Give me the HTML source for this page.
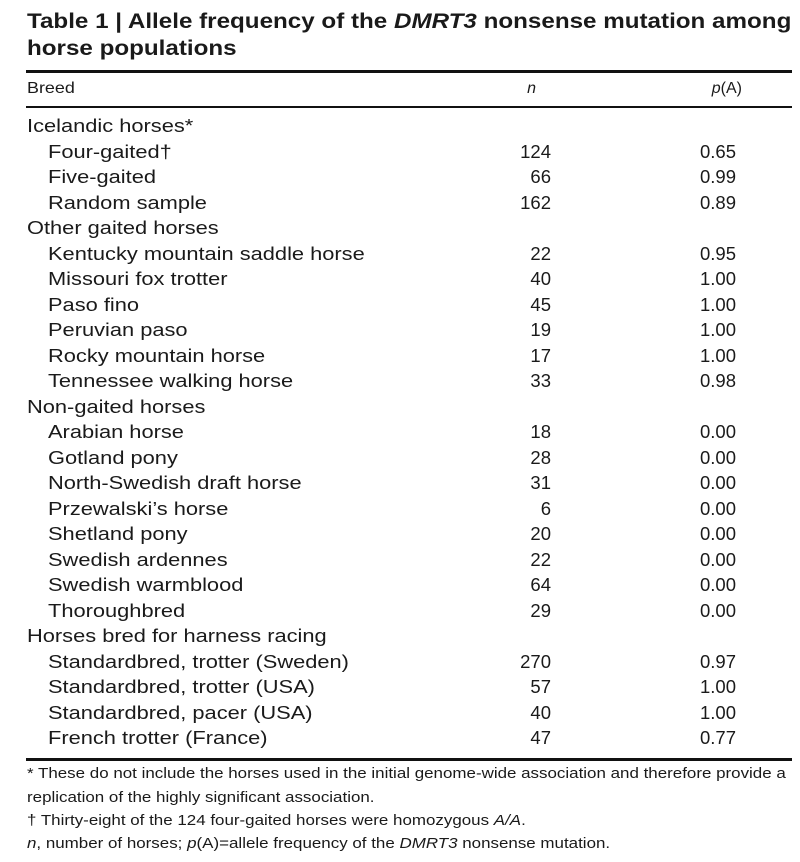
<!DOCTYPE html>
<html><head><meta charset="utf-8"><style>
body{margin:0;width:800px;height:862px;background:#fff;font-family:"Liberation Sans",sans-serif;color:#1a1a1a;position:relative;overflow:hidden}
.t{position:absolute;white-space:nowrap}
.sx{display:inline-block;transform-origin:left center}
.title{left:27px;font-weight:bold;font-size:21.5px}
.title .sx{transform:scaleX(1.125)}
.rule{position:absolute;left:26px;width:766px;background:#111}
.row{position:absolute;left:0;width:800px;height:25px;font-size:18.5px;line-height:25px}
.row .b{position:absolute;left:27px;transform:scaleX(1.18);transform-origin:left center;white-space:nowrap}
.row .b.in{left:48px}
.row .n{position:absolute;right:249px}
.row .p{position:absolute;right:64px}
.fn{position:absolute;left:27px;font-size:14.3px;white-space:nowrap;transform:scaleX(1.185);transform-origin:left center}
</style></head><body>
<div class="t title" style="top:9px"><span class="sx">Table 1 | Allele frequency of the <i>DMRT3</i> nonsense mutation among</span></div>
<div class="t title" style="top:36px"><span class="sx">horse populations</span></div>
<div class="rule" style="top:70px;height:3px"></div>
<div class="row" style="top:76px;font-size:16px">
<span class="b" style="transform:scaleX(1.12)">Breed</span><span class="n" style="right:264px"><i>n</i></span><span class="p" style="right:58px"><i>p</i>(A)</span></div>
<div class="rule" style="top:106px;height:1.5px"></div>
<div id="rows"></div>
<div class="rule" style="top:758px;height:3px"></div>
<div class="fn" style="top:766px">* These do not include the horses used in the initial genome-wide association and therefore provide a</div>
<div class="fn" style="top:790px">replication of the highly significant association.</div>
<div class="fn" style="top:813px">† Thirty-eight of the 124 four-gaited horses were homozygous <i>A/A</i>.</div>
<div class="fn" style="top:836px"><i>n</i>, number of horses; <i>p</i>(A)=allele frequency of the <i>DMRT3</i> nonsense mutation.</div>
<script>
const breeds=["Icelandic horses*","Four-gaited†","Five-gaited","Random sample","Other gaited horses","Kentucky mountain saddle horse","Missouri fox trotter","Paso fino","Peruvian paso","Rocky mountain horse","Tennessee walking horse","Non-gaited horses","Arabian horse","Gotland pony","North-Swedish draft horse","Przewalski’s horse","Shetland pony","Swedish ardennes","Swedish warmblood","Thoroughbred","Horses bred for harness racing","Standardbred, trotter (Sweden)","Standardbred, trotter (USA)","Standardbred, pacer (USA)","French trotter (France)"];
const nVals=["","124","66","162","","22","40","45","19","17","33","","18","28","31","6","20","22","64","29","","270","57","40","47"];
const pVals=["","0.65","0.99","0.89","","0.95","1.00","1.00","1.00","1.00","0.98","","0.00","0.00","0.00","0.00","0.00","0.00","0.00","0.00","","0.97","1.00","1.00","0.77"];
const host=document.getElementById('rows');
breeds.forEach((b,i)=>{
const r=document.createElement('div');
r.className='row';r.style.top=(113+i*25.5)+'px';


const grp=nVals[i]==="";
r.innerHTML='<span class="b'+(grp?'':' in')+'">'+b+'</span><span class="n">'+nVals[i]+'</span><span class="p">'+pVals[i]+'</span>';
host.appendChild(r);
});
</script>
</body></html>
